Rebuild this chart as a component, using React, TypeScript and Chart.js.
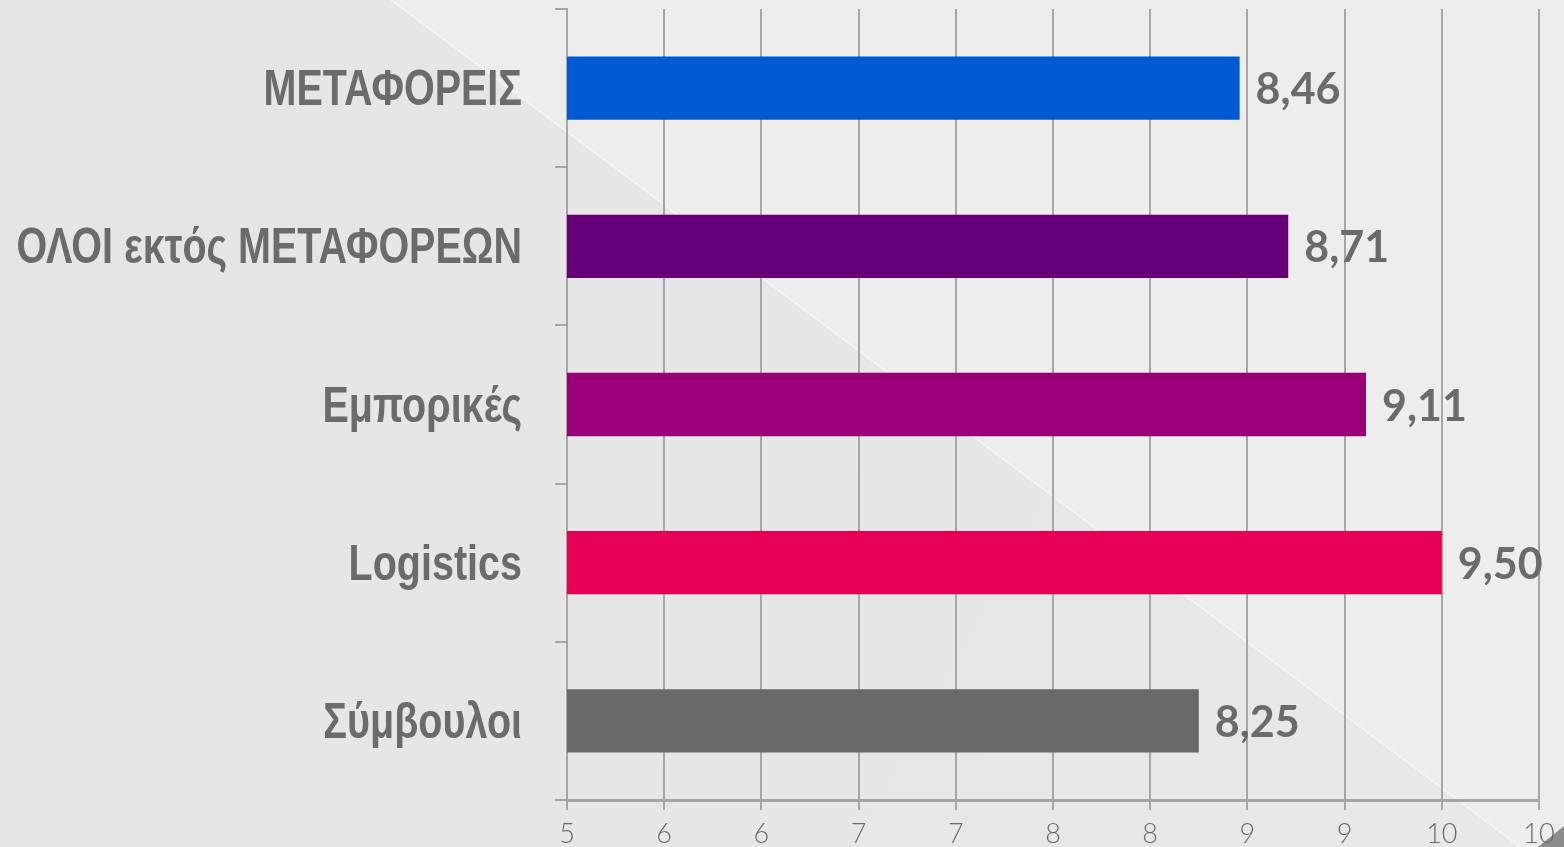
import React, { useEffect, useRef } from 'react';
import { Chart, registerables } from 'chart.js';

Chart.register(...registerables);

const categories = ['ΜΕΤΑΦΟΡΕΙΣ', 'ΟΛΟΙ εκτός ΜΕΤΑΦΟΡΕΩΝ', 'Εμπορικές', 'Logistics', 'Σύμβουλοι'];
const values = [8.46, 8.71, 9.11, 9.5, 8.25];
const barColors = ['#005AD2', '#660077', '#990078', '#E30055', '#696969'];
const xTickLabels = ['5', '6', '6', '7', '7', '8', '8', '9', '9', '10', '10'];
const xMin = 5;
const xMax = 10;
const xStep = 0.5;

const TEXT = '#6b6b6b';
const GRID = '#a6a6a6';

const backgroundPlugin = {
  id: 'bgDecor',
  beforeDraw(chart: any) {
    const { ctx, width, height } = chart;
    ctx.save();
    const g = ctx.createLinearGradient(0, 0, width, height);
    g.addColorStop(0, '#e5e5e5');
    g.addColorStop(1, '#e8e8e8');
    ctx.fillStyle = g;
    ctx.fillRect(0, 0, width, height);
    ctx.fillStyle = '#ededed';
    ctx.beginPath();
    ctx.moveTo(391, 0);
    ctx.lineTo(width, 0);
    ctx.lineTo(width, height);
    ctx.lineTo(391 + height / 0.75, height);
    ctx.closePath();
    ctx.fill();
    ctx.strokeStyle = '#f5f5f5';
    ctx.lineWidth = 1.5;
    ctx.beginPath();
    ctx.moveTo(391, 0);
    ctx.lineTo(391 + height / 0.75, height);
    ctx.stroke();
    ctx.fillStyle = '#8c8c8c';
    ctx.beginPath();
    ctx.moveTo(1538, height);
    ctx.lineTo(width, 826);
    ctx.lineTo(width, height);
    ctx.closePath();
    ctx.fill();
    ctx.restore();
  },
};

// Category labels drawn in a narrow (horizontally condensed) bold sans face
const categoryLabelPlugin = {
  id: 'categoryLabels',
  afterDraw(chart: any) {
    const { ctx } = chart;
    const yScale = chart.scales.y;
    const rightX = yScale.right - 12 - 33;
    ctx.save();
    ctx.fillStyle = TEXT;
    ctx.font = 'bold 50px "Liberation Sans", Arial, sans-serif';
    ctx.textAlign = 'right';
    ctx.textBaseline = 'alphabetic';
    yScale.ticks.forEach((_t: any, i: number) => {
      const y = yScale.getPixelForTick(i);
      const label = yScale.getLabelForValue(i);
      ctx.save();
      ctx.translate(rightX, y + 17);
      ctx.scale(0.79, 1);
      ctx.fillText(label, 0, 0);
      ctx.restore();
    });
    ctx.restore();
  },
};

const valueLabelPlugin = {
  id: 'valueLabels',
  afterDatasetsDraw(chart: any) {
    const { ctx } = chart;
    const meta = chart.getDatasetMeta(0);
    ctx.save();
    ctx.fillStyle = TEXT;
    ctx.font = 'bold 43px Lato, "DejaVu Sans", sans-serif';
    ctx.textAlign = 'left';
    ctx.textBaseline = 'alphabetic';
    meta.data.forEach((bar: any, i: number) => {
      const txt = values[i].toFixed(2).replace('.', ',');
      ctx.fillText(txt, bar.x + 16, bar.y + 16);
    });
    ctx.restore();
  },
};

export default function App() {
  const canvasRef = useRef<HTMLCanvasElement | null>(null);

  useEffect(() => {
    document.body.style.margin = '0';
    const canvas = canvasRef.current;
    if (!canvas) return;
    const chart = new Chart(canvas, {
      type: 'bar',
      data: {
        labels: categories,
        datasets: [
          {
            data: values,
            backgroundColor: barColors,
            borderWidth: 0,
            barPercentage: 0.4,
            categoryPercentage: 1,
          },
        ],
      },
      options: {
        indexAxis: 'y',
        responsive: false,
        animation: false,
        devicePixelRatio: 1,
        layout: { padding: { top: 9, right: 25, left: 0, bottom: 0 } },
        plugins: {
          legend: { display: false },
          tooltip: { enabled: false },
          title: { display: false },
        },
        scales: {
          x: {
            type: 'linear',
            min: xMin,
            max: xMax,
            afterFit(scale: any) {
              scale.height = 47;
            },
            ticks: {
              stepSize: xStep,
              autoSkip: false,
              maxRotation: 0,
              color: TEXT,
              padding: 8,
              font: { family: 'Lato, "DejaVu Sans", sans-serif', size: 27, weight: '300' as any },
              callback: (_v: any, i: number) => xTickLabels[i],
            },
            grid: {
              color: GRID,
              lineWidth: 2,
              tickLength: 10,
              drawOnChartArea: true,
            },
            border: { color: GRID, width: 3 },
          },
          y: {
            type: 'category',
            afterFit(scale: any) {
              scale.width = 567;
              scale.paddingTop = 0;
              scale.paddingBottom = 0;
            },
            ticks: {
              display: false,
            },
            grid: {
              color: GRID,
              lineWidth: 2,
              tickLength: 12,
              drawOnChartArea: false,
              offset: true,
            },
            border: { color: GRID, width: 2 },
          },
        },
      },
      plugins: [backgroundPlugin, categoryLabelPlugin, valueLabelPlugin],
    } as any);
    return () => chart.destroy();
  }, []);

  return (
    <div style={{ position: 'fixed', left: 0, top: 0, width: 1564, height: 847 }}>
      <canvas ref={canvasRef} width={1564} height={847} style={{ display: 'block' }} />
    </div>
  );
}
